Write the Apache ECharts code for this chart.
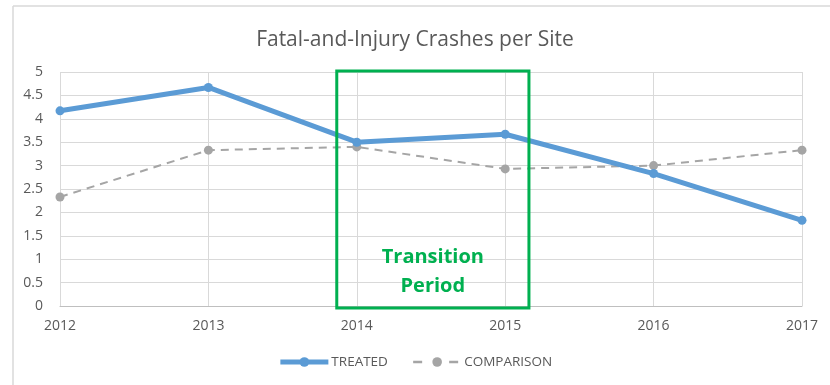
<!DOCTYPE html>
<html>
<head>
<meta charset="utf-8">
<script src="https://cdn.jsdelivr.net/npm/echarts@6/dist/echarts.min.js"></script>
<style>
  html, body { margin: 0; padding: 0; background: #fff; }
  #chart { width: 830px; height: 385px; }
</style>
</head>
<body>
<div id="chart"></div>
<script>
// Years on the category axis
const years = ['2012', '2013', '2014', '2015', '2016', '2017'];
// Fatal-and-injury crashes per site
const treated = [4.17, 4.67, 3.50, 3.67, 2.83, 1.83];
const comparison = [2.33, 3.33, 3.40, 2.93, 3.00, 3.33];
// Y-axis ticks
const yTicks = [0, 0.5, 1, 1.5, 2, 2.5, 3, 3.5, 4, 4.5, 5];
// Transition period span (years)
const transition = ['2014', '2015'];

const textColor = '#595959';
const gridColor = '#d9d9d9';
const font = '"Open Sans", "Noto Sans", sans-serif';

const chart = echarts.init(document.getElementById('chart'));

chart.setOption({
  animation: false,
  title: {
    text: 'Fatal-and-Injury Crashes per Site',
    left: 'center',
    top: 25,
    textStyle: { fontFamily: font, fontSize: 21, fontWeight: 'normal', color: textColor }
  },
  grid: { left: 60, right: 28, top: 72, bottom: 79 },
  legend: {
    bottom: 11,
    left: 'center',
    itemWidth: 48,
    itemHeight: 12,
    itemGap: 24,
    textStyle: { fontFamily: font, fontSize: 13.5, color: textColor, padding: [0, 0, 0, -2] },
    data: [
      { name: 'TREATED', lineStyle: { width: 5 } },
      { name: 'COMPARISON', lineStyle: { width: 2.5, type: [9, 27] } }
    ]
  },
  xAxis: {
    type: 'category',
    data: years,
    boundaryGap: false,
    axisLine: { lineStyle: { color: '#bfbfbf', width: 1 } },
    axisTick: { show: false },
    splitLine: { show: true, lineStyle: { color: gridColor, width: 1 } },
    axisLabel: { fontFamily: font, fontSize: 14, color: textColor, margin: 13 }
  },
  yAxis: {
    type: 'value',
    min: yTicks[0],
    max: yTicks[yTicks.length - 1],
    interval: yTicks[1] - yTicks[0],
    axisLine: { show: false },
    axisTick: { show: false },
    splitLine: { lineStyle: { color: gridColor, width: 1 } },
    axisLabel: { fontFamily: font, fontSize: 14, color: textColor, margin: 17 }
  },
  series: [
    {
      name: 'TREATED',
      type: 'line',
      data: treated,
      symbol: 'circle',
      symbolSize: 9,
      z: 3,
      lineStyle: { color: '#5b9bd5', width: 5 },
      itemStyle: { color: '#5b9bd5' }
    },
    {
      name: 'COMPARISON',
      type: 'line',
      data: comparison,
      symbol: 'circle',
      symbolSize: 9,
      z: 2,
      lineStyle: { color: '#a5a5a5', width: 2, type: [8, 6] },
      itemStyle: { color: '#a5a5a5' }
    }
  ]
});

// Outer frame lines and the transition-period box, placed from the axis scales
function drawOverlays() {
  const p0 = chart.convertToPixel({ xAxisIndex: 0 }, transition[0]);
  const p1 = chart.convertToPixel({ xAxisIndex: 0 }, transition[1]);
  const step = p1 - p0;
  const x0 = p0 - 0.135 * step;
  const x1 = p1 + 0.16 * step;
  const yTop = chart.convertToPixel({ yAxisIndex: 0 }, yTicks[yTicks.length - 1]) - 1;
  const yBot = chart.convertToPixel({ yAxisIndex: 0 }, yTicks[0]) + 2;
  const cx = (x0 + x1) / 2;
  const w = chart.getWidth();
  const h = chart.getHeight();

  chart.setOption({
    graphic: [
      { type: 'line', shape: { x1: 13, y1: 6, x2: 13, y2: h }, style: { stroke: gridColor, lineWidth: 1.5 }, silent: true },
      { type: 'line', shape: { x1: 13, y1: 6, x2: w, y2: 6 }, style: { stroke: gridColor, lineWidth: 1.5 }, silent: true },
      {
        type: 'rect',
        shape: { x: x0, y: yTop, width: x1 - x0, height: yBot - yTop },
        style: { fill: 'none', stroke: '#00b050', lineWidth: 3 },
        z: 10,
        silent: true
      },
      {
        type: 'text',
        x: cx,
        y: 272,
        style: {
          text: 'Transition\nPeriod',
          fill: '#00b050',
          font: 'bold 20px ' + font,
          align: 'center',
          verticalAlign: 'middle',
          lineHeight: 29
        },
        z: 10,
        silent: true
      }
    ]
  });
}
drawOverlays();
</script>
</body>
</html>
